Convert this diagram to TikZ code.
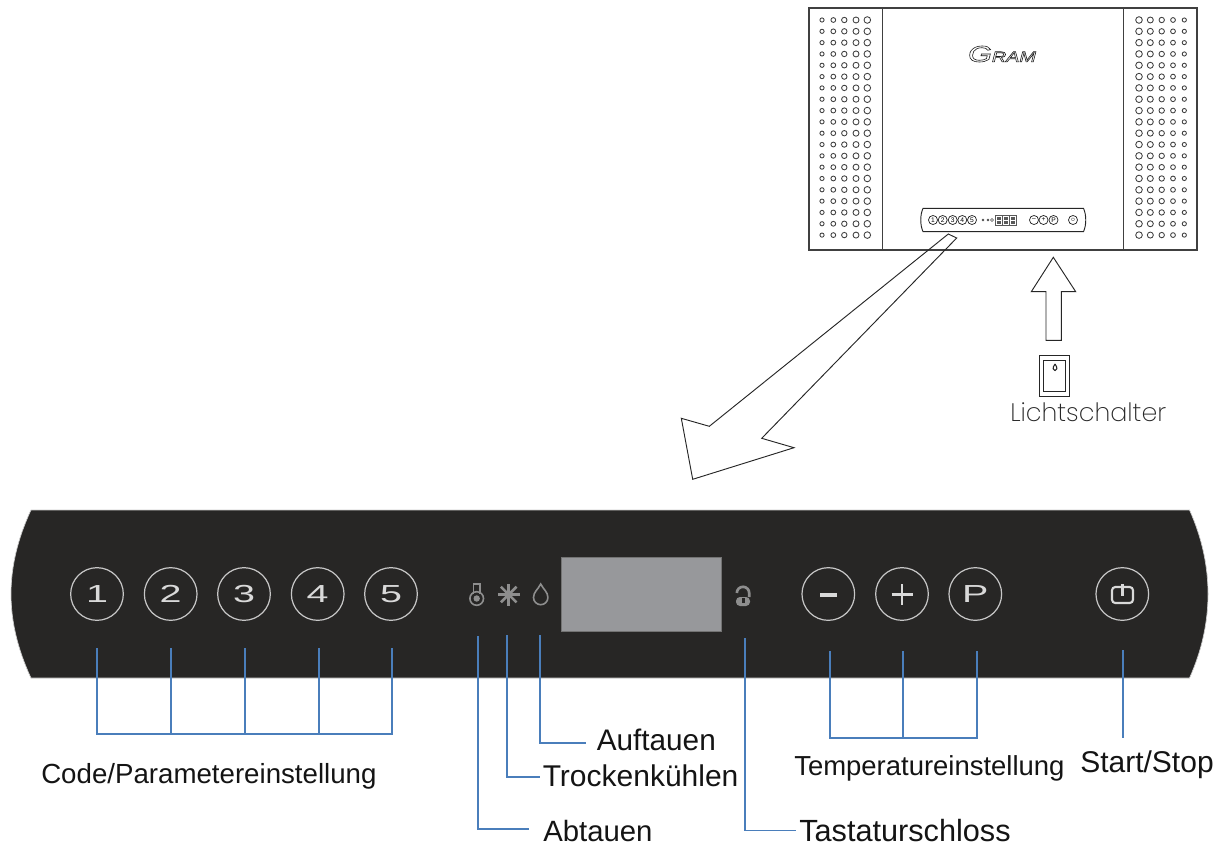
\documentclass[tikz,border=0pt]{standalone}
\usepackage{fontspec}
\setmainfont{Liberation Sans}
\newfontfamily\keyfont[FakeStretch=1.6]{Liberation Sans}
\newfontfamily\thinfont{Poppins ExtraLight}
\newfontfamily\logofont[FakeStretch=1.35]{Liberation Sans}
\usetikzlibrary{calc}
\definecolor{mypanel}{HTML}{272625}
\definecolor{myscreen}{HTML}{97989B}
\definecolor{mylead}{HTML}{4A7EBB}
\definecolor{myicon}{HTML}{8E8E8E}
\colorlet{myring}{black!22}
\colorlet{myink}{black!92}
\def\keyrow{594}
\begin{document}
\begin{tikzpicture}[
    x=0.75pt, y=-0.75pt,
    line join=miter,
    outline/.style={draw=black!85, line width=0.7pt},
    cabinet/.style={draw=black!75, line width=0.85pt},
    lead/.style={draw=mylead, line width=1.25pt},
    caption/.style={anchor=base west, inner sep=0pt, text=myink},
    key/.style={circle, draw=myring, line width=0.9pt, minimum size=39.5pt, inner sep=0pt,
                text=black!15, font=\keyfont\fontsize{18.5}{20}\selectfont},
    minikey/.style={circle, draw=black!85, line width=0.55pt, minimum size=6.8pt, inner sep=0pt,
                font=\fontsize{5}{5}\selectfont},
    icon/.style={draw=myicon, line width=1.2pt},
  ]
  \useasboundingbox (0,0) rectangle (1227,846);

  % ------------------------------------------------------------------ cabinet
  \draw[cabinet] (809,8) rectangle (1197,250);
  \draw[cabinet] (882.7,8) -- (882.7,250);
  \draw[cabinet] (1123.7,8) -- (1123.7,250);
  \foreach \x/\r in {822/2.1, 833.3/2.4, 844.3/2.7, 856/3.0, 867.3/3.3,
                     1139/3.3, 1150.3/3.0, 1161.7/2.7, 1173/2.4, 1184.3/2.1}
    \foreach \j in {0,...,19}
      \draw[black!75, line width=0.65pt] (\x,20+11.32*\j) circle[radius=\r];

  \node[inner sep=0pt, text=black!90] (logo) at (1002,54)
    {\special{pdf:code 1 Tr 0.45 w}\logofont\itshape\fontsize{17}{17}\selectfont G\fontsize{11}{11}\selectfont RAM\special{pdf:code 0 Tr}};

  % small control strip on the cabinet
  \draw[outline, line width=0.7pt] (923,208.3) -- (1083.5,208.3)
    .. controls (1086.5,215) and (1086.5,225) .. (1083.5,231.7) -- (923,231.7)
    .. controls (920,225) and (920,215) .. (923,208.3) -- cycle;
  \foreach \x [count=\i] in {933, 942.7, 952.7, 962.3, 972}
    \node[minikey] (m\i) at (\x,220) {\i};
  \fill[black!70] (983,220) circle[radius=1.4] (988,220) circle[radius=1.4];
  \draw[black!70, line width=0.4pt] (992,220) circle[radius=1.4];
  \fill[black!65] (995,214.5) rectangle (1017,225.5);
  \foreach \x in {996.5, 1003.5, 1010.5}
    \draw[white, line width=0.5pt] (\x,216) rectangle (\x+5,224) (\x,220) -- (\x+5,220);
  \foreach \x/\t/\n in {1034/--/mm, 1043.5/+/mp, 1053.5/P/mq, 1073/{\tiny$\circ$}/mo}
    \node[minikey] (\n) at (\x,220) {\t};

  % ------------------------------------------------------------------ arrows
  \draw[outline] (948.3,234) -- (709.3,426.3) -- (681.3,418.3) -- (692.7,479.3)
    -- (794,447.7) -- (761.7,438.3) -- (956.7,238) -- cycle;
  \draw[outline] (1053.3,257.3) -- (1075.7,291.7) -- (1061.3,291.7) -- (1061.3,340.3)
    -- (1046,340.3) -- (1046,291.7) -- (1031.3,291.7) -- cycle;

  % light switch
  \draw[outline] (1039.3,355) rectangle (1069.3,396);
  \draw[outline] (1043.7,360) rectangle (1065.7,391.7);
  \draw[black!85, line width=0.8pt] (1055,364) .. controls (1052,368) and (1053,370.5) .. (1055,370.5)
    .. controls (1057,370.5) and (1058,368) .. (1055,364);
  \node[anchor=base west, inner sep=0pt, text=black!85, font=\thinfont\fontsize{19}{21}\selectfont]
    (switchlabel) at (1010,421) {Lichtschalter};

  % ------------------------------------------------------------------ control panel
  \fill[mypanel, draw=black!20, line width=0.5pt] (31,510) -- (1189.5,510)
    .. controls (1202,538) and (1208,566) .. (1208,594)
    .. controls (1208,622) and (1202,650) .. (1189.5,678) -- (31,678)
    .. controls (18,650) and (11,622) .. (11,594)
    .. controls (11,566) and (18,538) .. (31,510) -- cycle;

  \foreach \x [count=\i] in {97, 170.7, 244, 317.7, 391}
    \node[key] (k\i) at (\x,\keyrow) {\i};
  \node[key] (kminus) at (828.3,\keyrow) {};
  \fill[black!15] (820,592.5) rectangle (836.7,597);
  \node[key] (kplus) at (902,\keyrow) {};
  \draw[black!15, line width=1.7pt] (891.5,594.5) -- (912.5,594.5) (902,584) -- (902,605);
  \node[key] (kp) at (975.3,\keyrow) {P};
  \node[key] (kpower) at (1122.3,\keyrow) {};
  \draw[black!15, line width=1.6pt, rounded corners=2.5pt] (1112,587) rectangle (1133,603);
  \draw[black!15, line width=1.9pt] (1122.5,584) -- (1122.5,596);

  \fill[myscreen, draw=black!55, line width=0.5pt] (561.3,557.7) rectangle (721.7,631);

  % indicators
  \draw[icon] (473.5,593.5) -- (473.5,584) -- (480,584) -- (480,593.5);
  \draw[icon] (476.7,598.5) circle[radius=6.8];
  \fill[myicon] (476.7,598.5) circle[radius=3.2];
  \foreach \a in {0,45,...,135}
    \draw[myicon, line width=1.9pt] (508.7,594.5) +(\a:11) -- +(\a+180:11);
  \draw[icon] (540.7,584) .. controls (538,589.5) and (533.5,592) .. (533.5,597.5)
    arc[start angle=180, end angle=0, radius=7.2]
    .. controls (547.9,592) and (543.5,589.5) .. (540.7,584) -- cycle;
  \draw[icon, line width=2pt] (736.8,593) arc[start angle=180, end angle=360, radius=6.2] -- (749.2,597);
  \fill[myicon, rounded corners=3pt] (736,597) rectangle (750,606);
  \fill[mypanel] (741.5,597.5) rectangle (744.5,603);

  % ------------------------------------------------------------------ labels
  \node[caption, font=\fontsize{20.75}{25}\selectfont] (lcode) at (41,783) {Code/Parametereinstellung};
  \node[caption, font=\fontsize{22.3}{26}\selectfont] (lauf) at (596.5,750.5) {Auftauen};
  \node[caption, font=\fontsize{22.5}{26}\selectfont] (ltrock) at (542.5,786.5) {Trockenkühlen};
  \node[caption, font=\fontsize{22}{25}\selectfont] (labt) at (543,841) {Abtauen};
  \node[caption, font=\fontsize{23}{25}\selectfont] (ltast) at (799,841) {Tastaturschloss};
  \node[caption, font=\fontsize{20.6}{25}\selectfont] (ltemp) at (794,775) {Temperatureinstellung};
  \node[caption, font=\fontsize{22.5}{26}\selectfont] (lstart) at (1080,772.5) {Start/Stop};

  % ------------------------------------------------------------------ leaders
  \coordinate (bar1) at (97,734);
  \coordinate (bar2) at (392,734);
  \draw[lead] (bar1) -- (bar2);
  \foreach \x in {97, 171, 245, 319, 392}
    \draw[lead] (\x,648) -- (\x,735);

  \coordinate (bar3) at (830,738);
  \coordinate (bar4) at (977,738);
  \draw[lead] (bar3) -- (bar4);
  \foreach \x in {830, 903, 977}
    \draw[lead] (\x,651) -- (\x,739);
  \draw[lead] (1123,650) -- (1123,738);

  \draw[lead] (478,636) -- (478,829) -- (529,829);
  \draw[lead] (507,635) -- (507,777.3) -- (540,777.3);
  \draw[lead] (539.7,635) -- (539.7,743) -- (586,743);
  \draw[lead] (745,638) -- (745,830.5) -- (795.7,830.5);

\end{tikzpicture}
\end{document}
